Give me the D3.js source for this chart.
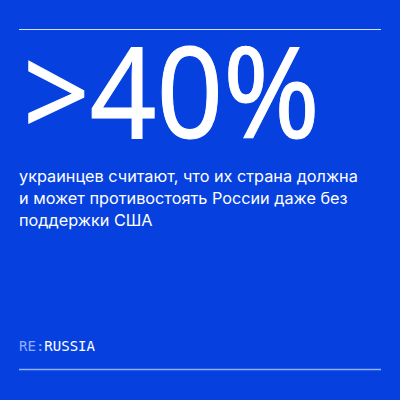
<!DOCTYPE html>
<html>
<head>
<meta charset="utf-8">
<script src="https://cdn.jsdelivr.net/npm/d3@7"></script>
<style>
  html, body { margin: 0; padding: 0; background: #0641e0; }
  svg { display: block; }
</style>
</head>
<body>
<script>
var headline = ['>40%'];
var body_lines = [
  'украинцев считают, что их страна должна',
  'и может противостоять России даже без',
  'поддержки США'
];
var logo_parts = ['RE:', 'RUSSIA'];

function draw() {
  "use strict";
  var width = 400,
      height = 400,
      left = 19,
      right = 381;
  var bg = '#0641e0';

  var svg = d3.select('body')
    .append('svg')
    .attr('width', width)
    .attr('height', height);

  svg.append('rect')
    .attr('width', width)
    .attr('height', height)
    .attr('fill', bg);

  // rule lines top and bottom
  svg.append('line')
    .attr('x1', left).attr('x2', right)
    .attr('y1', 29.5).attr('y2', 29.5)
    .attr('stroke', '#d4e0ff')
    .attr('stroke-width', 1.2);

  svg.append('line')
    .attr('x1', left).attr('x2', right)
    .attr('y1', 369.5).attr('y2', 369.5)
    .attr('stroke', '#8fb0ff')
    .attr('stroke-width', 1.6);

  // big number
  svg.selectAll('text.big')
    .data(headline)
    .enter()
    .append('text')
    .attr('class', 'big')
    .attr('x', 23)
    .attr('y', 138)
    .attr('font-family', "'Noto Sans', 'Open Sans', sans-serif")
    .attr('font-size', '126px')
    .attr('fill', 'white')
    .attr('stroke', 'white')
    .attr('stroke-width', 1)
    .attr('textLength', 297)
    .attr('lengthAdjust', 'spacingAndGlyphs')
    .text(function(d) { return d; });

  // body copy, sized so the first line ends where the reference does
  var body_size = 15;
  var line_y = d3.scaleLinear().domain([0, 1]).range([182, 204]);

  var lines = svg.selectAll('text.body')
    .data(body_lines)
    .enter()
    .append('text')
    .attr('class', 'body')
    .attr('x', left)
    .attr('y', function(d, i) { return line_y(i); })
    .attr('font-family', 'Inter')
    .attr('font-size', body_size + 'px')
    .attr('fill', 'white')
    .text(function(d) { return d; });

  var first_w = lines.node().getComputedTextLength();
  body_size = body_size * 339 / first_w;
  lines.attr('font-size', body_size + 'px');

  // logo
  var logo = svg.append('text')
    .attr('x', left)
    .attr('y', 351)
    .attr('font-family', 'DejaVu Sans Mono')
    .attr('font-size', '14px')
    .attr('textLength', 76)
    .attr('lengthAdjust', 'spacingAndGlyphs');

  logo.selectAll('tspan')
    .data(logo_parts)
    .enter()
    .append('tspan')
    .attr('fill', function(d, i) { return i === 0 ? '#8fb0ff' : 'white'; })
    .text(function(d) { return d; });
}

draw();
</script>
</body>
</html>
